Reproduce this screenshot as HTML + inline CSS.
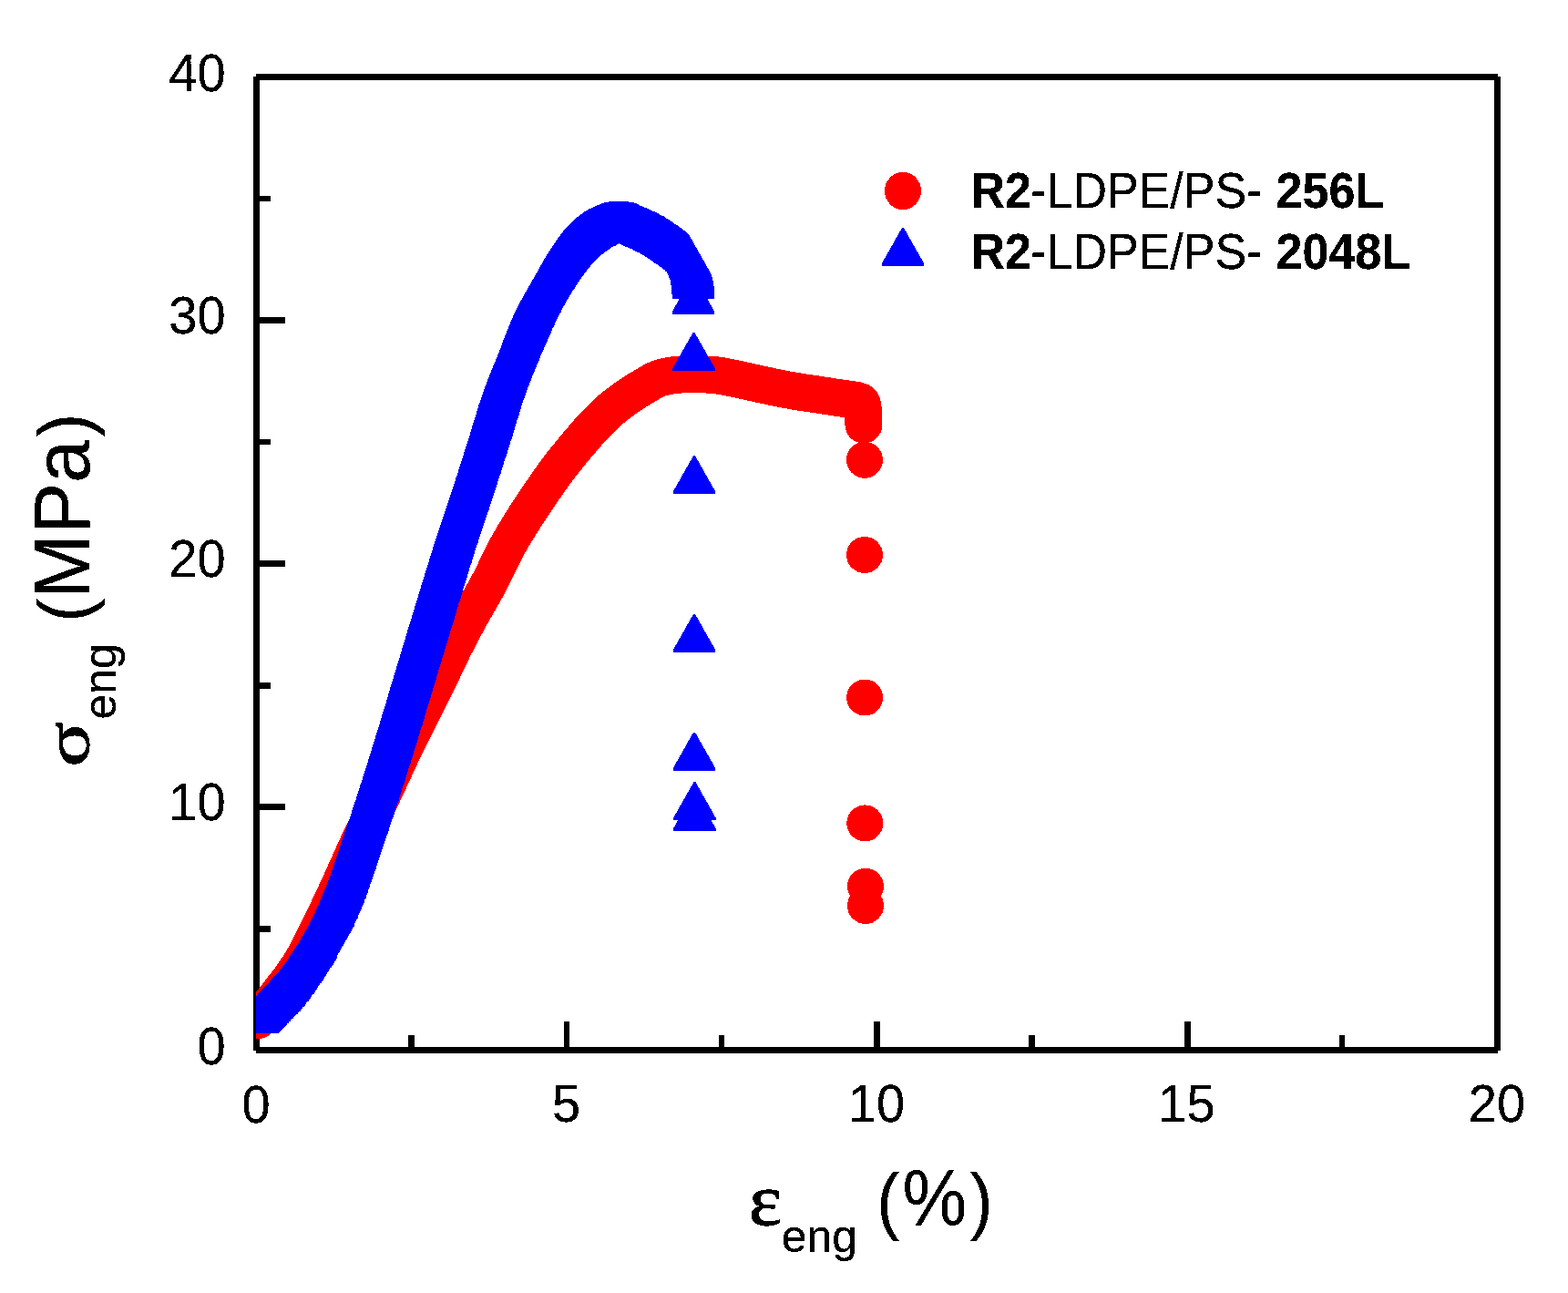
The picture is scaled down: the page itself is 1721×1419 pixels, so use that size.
<!DOCTYPE html>
<html lang="en"><head><meta charset="utf-8"><title>Stress-strain curves</title>
<style>
html,body{margin:0;padding:0;background:#fff}
body{width:1721px;height:1419px;overflow:hidden}
svg{display:block}
text{font-family:"Liberation Sans",sans-serif;fill:#000}
.sym{font-family:"Liberation Serif","DejaVu Serif",serif}
.b{font-weight:bold}
</style></head>
<body>
<svg width="1721" height="1419" viewBox="0 0 1721 1419">
<defs><clipPath id="plot"><rect x="281" y="84" width="1363" height="1069"/></clipPath>
<marker id="t" markerUnits="userSpaceOnUse" markerWidth="60" markerHeight="60" refX="0" refY="0" viewBox="-30 -30 60 60" overflow="visible"><path d="M-1,-27.8 L1,-27.8 L23.3,11.6 L23.3,14.1 L-23.3,14.1 L-23.3,11.6 Z" fill="#00f" shape-rendering="crispEdges"/></marker>
<path id="tri" d="M-1,-27.8 L1,-27.8 L23.3,11.6 L23.3,14.1 L-23.3,14.1 L-23.3,11.6 Z"/>
<filter id="bw" filterUnits="userSpaceOnUse" x="0" y="0" width="1721" height="1419" color-interpolation-filters="sRGB"><feComponentTransfer><feFuncA type="discrete" tableValues="0 1 1"/></feComponentTransfer></filter></defs>
<rect width="1721" height="1419" fill="#fff"/>
<g fill="#000" shape-rendering="crispEdges">
<rect x="278" y="84" width="7" height="1069"/>
<rect x="1640" y="84" width="7" height="1069"/>
<rect x="281" y="81" width="1363" height="7"/>
<rect x="281" y="1149" width="1363" height="7"/>
<rect x="619" y="1121" width="6" height="31"/>
<rect x="959" y="1121" width="7" height="31"/>
<rect x="1300" y="1121" width="7" height="31"/>
<rect x="448" y="1136" width="7" height="16"/>
<rect x="789" y="1136" width="6" height="16"/>
<rect x="1129" y="1136" width="7" height="16"/>
<rect x="1470" y="1136" width="6" height="16"/>
<rect x="281" y="348" width="32" height="7"/>
<rect x="281" y="615" width="32" height="7"/>
<rect x="281" y="882" width="32" height="7"/>
<rect x="281" y="215" width="16" height="6"/>
<rect x="281" y="482" width="16" height="6"/>
<rect x="281" y="749" width="16" height="7"/>
<rect x="281" y="1016" width="16" height="7"/>
</g>
<g clip-path="url(#plot)" shape-rendering="crispEdges">
<polyline points="283.0,1119.7 284.2,1118.1 285.5,1116.5 286.7,1115.0 287.9,1113.4 289.1,1111.8 290.4,1110.2 291.6,1108.7 292.8,1107.1 294.1,1105.5 295.3,1103.9 296.5,1102.3 297.7,1100.8 299.0,1099.2 300.2,1097.6 301.4,1096.0 302.7,1094.5 303.9,1092.9 305.1,1091.3 306.3,1089.7 307.6,1088.1 308.8,1086.5 310.0,1085.0 311.2,1083.4 312.5,1081.8 313.7,1080.2 314.9,1078.7 316.2,1077.1 317.4,1075.5 318.6,1073.9 319.7,1072.2 320.9,1070.6 322.0,1069.0 323.2,1067.3 324.3,1065.7 325.4,1064.0 326.6,1062.4 327.7,1060.7 328.8,1059.0 329.8,1057.3 330.9,1055.6 331.9,1053.9 332.9,1052.2 333.9,1050.5 334.9,1048.7 335.8,1047.0 336.8,1045.2 337.7,1043.4 338.6,1041.7 339.5,1039.9 340.4,1038.1 341.3,1036.3 342.3,1034.5 343.2,1032.7 344.1,1031.0 345.0,1029.2 345.9,1027.4 346.8,1025.6 347.7,1023.8 348.6,1022.0 349.5,1020.2 350.4,1018.5 351.3,1016.7 352.2,1014.9 353.0,1013.1 353.9,1011.3 354.8,1009.5 355.6,1007.7 356.5,1005.9 357.4,1004.1 358.2,1002.2 359.1,1000.4 359.9,998.6 360.8,996.8 361.6,995.0 362.5,993.2 363.3,991.4 364.2,989.6 365.0,987.8 365.9,986.0 366.7,984.1 367.6,982.3 368.4,980.5 369.3,978.7 370.1,976.9 370.9,975.1 371.8,973.3 372.6,971.5 373.4,969.6 374.3,967.8 375.1,966.0 375.9,964.2 376.8,962.4 377.6,960.5 378.4,958.7 379.2,956.9 380.1,955.1 380.9,953.2 381.7,951.4 382.5,949.6 383.3,947.8 384.2,945.9 385.0,944.1 385.8,942.3 386.6,940.5 387.4,938.6 388.2,936.8 389.0,935.0 389.8,933.1 390.7,931.3 391.5,929.5 392.3,927.7 393.1,925.8 394.0,924.0 394.8,922.2 395.7,920.4 396.5,918.6 397.4,916.8 398.3,915.0 399.1,913.2 400.0,911.4 400.9,909.6 401.8,907.9 402.8,906.1 403.7,904.3 404.6,902.5 405.5,900.7 406.4,899.0 407.3,897.2 408.3,895.4 409.2,893.6 410.1,891.9 411.0,890.1 411.9,888.3 412.8,886.5 413.7,884.7 414.6,882.9 415.5,881.1 416.4,879.3 417.3,877.5 418.1,875.7 419.0,873.9 419.8,872.1 420.7,870.3 421.5,868.5 422.4,866.7 423.2,864.9 424.1,863.1 424.9,861.3 425.8,859.4 426.6,857.6 427.4,855.8 428.3,854.0 429.1,852.2 429.9,850.4 430.8,848.5 431.6,846.7 432.4,844.9 433.3,843.1 434.1,841.3 434.9,839.4 435.8,837.6 436.6,835.8 437.5,834.0 438.3,832.2 439.2,830.4 440.0,828.6 440.9,826.8 441.8,825.0 442.6,823.2 443.5,821.4 444.4,819.6 445.3,817.8 446.2,816.0 447.1,814.2 448.0,812.4 448.8,810.6 449.7,808.8 450.6,807.1 451.5,805.3 452.4,803.5 453.3,801.7 454.2,799.9 455.2,798.1 456.1,796.3 457.0,794.6 457.9,792.8 458.8,791.0 459.6,789.2 460.5,787.4 461.4,785.6 462.3,783.8 463.2,782.0 464.1,780.3 465.0,778.5 465.9,776.7 466.8,774.9 467.7,773.1 468.6,771.3 469.5,769.5 470.4,767.8 471.3,766.0 472.2,764.2 473.1,762.4 474.0,760.6 474.9,758.8 475.8,757.0 476.7,755.2 477.6,753.4 478.4,751.6 479.3,749.8 480.2,748.0 481.0,746.2 481.9,744.4 482.8,742.6 483.6,740.8 484.5,739.0 485.3,737.2 486.2,735.4 487.0,733.6 487.8,731.7 488.7,729.9 489.5,728.1 490.4,726.3 491.2,724.5 492.1,722.7 493.0,720.9 493.8,719.1 494.7,717.3 495.6,715.5 496.5,713.7 497.3,711.9 498.2,710.1 499.1,708.3 500.1,706.6 501.0,704.8 501.9,703.0 502.8,701.2 503.7,699.4 504.7,697.7 505.6,695.9 506.5,694.1 507.5,692.4 508.4,690.6 509.3,688.8 510.3,687.1 511.2,685.3 512.2,683.5 513.1,681.8 514.1,680.0 515.0,678.3 516.0,676.5 517.0,674.8 517.9,673.0 518.9,671.3 519.9,669.5 520.9,667.8 521.9,666.1 522.9,664.3 523.9,662.6 524.9,660.9 525.9,659.1 526.9,657.4 527.9,655.7 528.9,653.9 529.9,652.2 530.9,650.5 531.9,648.7 532.8,647.0 533.8,645.2 534.8,643.5 535.7,641.7 536.6,639.9 537.6,638.2 538.5,636.4 539.4,634.6 540.3,632.8 541.2,631.0 542.1,629.2 543.0,627.4 543.8,625.6 544.7,623.8 545.6,622.0 546.5,620.2 547.3,618.4 548.2,616.6 549.1,614.8 550.0,613.0 550.9,611.3 551.8,609.5 552.7,607.7 553.6,605.9 554.5,604.1 555.4,602.4 556.3,600.6 557.3,598.8 558.3,597.1 559.2,595.3 560.2,593.6 561.2,591.9 562.2,590.1 563.2,588.4 564.2,586.7 565.3,585.0 566.3,583.3 567.4,581.6 568.4,579.9 569.5,578.2 570.5,576.5 571.6,574.8 572.6,573.1 573.7,571.4 574.8,569.7 575.8,568.0 576.9,566.3 578.0,564.6 579.1,562.9 580.2,561.3 581.3,559.6 582.3,557.9 583.4,556.2 584.6,554.6 585.7,552.9 586.8,551.2 587.9,549.6 589.0,547.9 590.1,546.3 591.3,544.6 592.4,543.0 593.5,541.3 594.7,539.7 595.8,538.0 596.9,536.4 598.1,534.7 599.2,533.1 600.3,531.4 601.5,529.8 602.6,528.2 603.8,526.5 604.9,524.9 606.1,523.3 607.3,521.6 608.4,520.0 609.6,518.4 610.8,516.8 612.0,515.2 613.2,513.6 614.4,512.0 615.6,510.4 616.9,508.8 618.1,507.3 619.3,505.7 620.6,504.1 621.8,502.6 623.1,501.0 624.4,499.5 625.6,497.9 626.9,496.4 628.2,494.8 629.4,493.3 630.7,491.7 632.0,490.2 633.3,488.7 634.6,487.2 635.9,485.6 637.2,484.1 638.5,482.6 639.8,481.1 641.1,479.5 642.4,478.0 643.7,476.5 645.0,475.0 646.4,473.5 647.7,472.1 649.1,470.6 650.4,469.1 651.8,467.7 653.2,466.2 654.5,464.7 655.9,463.3 657.3,461.8 658.7,460.4 660.1,459.0 661.5,457.6 663.0,456.2 664.4,454.8 665.9,453.4 667.3,452.1 668.8,450.8 670.3,449.5 671.9,448.2 673.4,446.9 675.0,445.7 676.6,444.4 678.1,443.2 679.7,442.0 681.4,440.8 683.0,439.6 684.6,438.5 686.2,437.3 687.9,436.1 689.5,435.0 691.2,433.9 692.8,432.7 694.5,431.6 696.2,430.5 697.8,429.5 699.5,428.4 701.2,427.4 703.0,426.3 704.7,425.3 706.4,424.3 708.2,423.3 709.9,422.2 711.6,421.2 713.4,420.1 715.2,419.1 716.9,418.1 718.7,417.2 720.5,416.4 722.4,415.6 724.2,414.9 726.1,414.3 727.9,413.9 729.9,413.4 731.8,413.0 733.8,412.6 735.8,412.2 737.8,411.9 739.8,411.6 741.8,411.3 743.8,411.2 745.8,411.1 747.7,411.0 749.7,410.9 751.7,410.8 753.7,410.8 755.7,410.7 757.8,410.7 759.8,410.6 761.8,410.6 763.8,410.6 765.8,410.6 767.8,410.7 769.8,410.7 771.8,410.8 773.8,410.9 775.8,411.0 777.8,411.1 779.8,411.2 781.7,411.3 783.7,411.5 785.7,411.7 787.7,412.0 789.7,412.3 791.6,412.6 793.6,413.0 795.6,413.4 797.6,413.7 799.5,414.1 801.5,414.5 803.5,414.9 805.4,415.3 807.4,415.7 809.3,416.1 811.3,416.5 813.2,417.0 815.2,417.4 817.1,417.8 819.1,418.3 821.0,418.7 823.0,419.1 824.9,419.6 826.9,420.0 828.9,420.4 830.8,420.8 832.8,421.3 834.7,421.7 836.7,422.1 838.6,422.5 840.6,423.0 842.5,423.4 844.5,423.8 846.4,424.2 848.4,424.7 850.4,425.1 852.3,425.5 854.3,425.9 856.2,426.3 858.2,426.7 860.2,427.0 862.1,427.4 864.1,427.8 866.1,428.1 868.0,428.5 870.0,428.9 872.0,429.2 873.9,429.5 875.9,429.8 877.9,430.2 879.9,430.5 881.8,430.8 883.8,431.0 885.8,431.3 887.8,431.6 889.8,431.9 891.7,432.2 893.7,432.5 895.7,432.8 897.7,433.1 899.6,433.4 901.6,433.7 903.6,434.0 905.6,434.3 907.6,434.6 909.5,434.9 911.5,435.2 913.5,435.5 915.5,435.8 917.4,436.1 919.4,436.4 921.4,436.7 923.4,437.0 925.4,437.3 927.3,437.6 929.3,437.9 931.3,438.1 933.3,438.4 935.3,438.7 937.3,439.0 939.2,439.3 941.2,439.8 943.5,440.4 945.2,441.2 945.9,442.3 946.5,444.1 946.9,446.3 947.2,448.6 947.3,450.6 947.5,452.6 947.6,454.6 947.7,456.6 947.8,458.6 947.8,460.6 947.9,462.6 947.9,464.6 947.9,466.1" fill="none" stroke="#f00" stroke-width="41" stroke-linecap="round" stroke-linejoin="round"/>
<circle cx="949.0" cy="504.8" r="20" fill="#f00"/>
<circle cx="949.0" cy="609.0" r="20" fill="#f00"/>
<circle cx="949.1" cy="765.5" r="20" fill="#f00"/>
<circle cx="949.3" cy="903.4" r="20" fill="#f00"/>
<circle cx="950.0" cy="972.8" r="20" fill="#f00"/>
<circle cx="950.0" cy="994.0" r="20" fill="#f00"/>
<polyline points="283.1,1119.5 283.8,1118.8 284.5,1118.0 285.2,1117.3 285.9,1116.6 286.5,1115.9 287.2,1115.1 287.9,1114.4 288.6,1113.7 289.3,1113.0 290.0,1112.2 290.7,1111.5 291.3,1110.8 292.0,1110.0 292.7,1109.3 293.4,1108.6 294.1,1107.9 294.8,1107.1 295.4,1106.4 296.1,1105.7 296.8,1104.9 297.5,1104.2 298.2,1103.5 298.9,1102.8 299.5,1102.0 300.2,1101.3 300.9,1100.6 301.6,1099.8 302.3,1099.1 303.0,1098.4 303.7,1097.7 304.4,1096.9 305.1,1096.2 305.7,1095.5 306.4,1094.8 307.1,1094.0 307.8,1093.3 308.5,1092.6 309.1,1091.8 309.8,1091.0 310.4,1090.3 311.0,1089.5 311.6,1088.7 312.3,1087.9 312.9,1087.1 313.5,1086.3 314.0,1085.5 314.6,1084.7 315.2,1083.9 315.8,1083.1 316.4,1082.3 316.9,1081.4 317.5,1080.6 318.1,1079.8 318.7,1079.0 319.2,1078.1 319.8,1077.3 320.4,1076.5 320.9,1075.7 321.5,1074.9 322.1,1074.0 322.6,1073.2 323.2,1072.4 323.8,1071.5 324.3,1070.7 324.9,1069.9 325.4,1069.0 326.0,1068.2 326.5,1067.4 327.1,1066.5 327.6,1065.7 328.2,1064.9 328.7,1064.0 329.3,1063.2 329.8,1062.4 330.3,1061.5 330.9,1060.7 331.4,1059.8 332.0,1059.0 332.5,1058.2 333.1,1057.3 333.6,1056.5 334.1,1055.6 334.7,1054.8 335.2,1053.9 335.8,1053.1 336.3,1052.3 336.8,1051.4 337.4,1050.6 337.9,1049.7 338.4,1048.9 338.9,1048.0 339.5,1047.2 340.0,1046.3 340.5,1045.4 341.0,1044.6 341.5,1043.7 342.0,1042.9 342.5,1042.0 343.0,1041.1 343.5,1040.3 344.0,1039.4 344.4,1038.5 344.9,1037.6 345.4,1036.7 345.9,1035.9 346.3,1035.0 346.8,1034.1 347.2,1033.2 347.7,1032.3 348.2,1031.4 348.6,1030.5 349.1,1029.6 349.5,1028.7 350.0,1027.9 350.5,1027.0 350.9,1026.1 351.4,1025.2 351.9,1024.3 352.4,1023.5 352.9,1022.6 353.4,1021.7 353.9,1020.9 354.4,1020.0 354.9,1019.1 355.4,1018.3 355.9,1017.4 356.4,1016.5 356.9,1015.7 357.4,1014.8 357.9,1013.9 358.4,1013.1 358.9,1012.2 359.4,1011.3 359.9,1010.5 360.4,1009.6 360.9,1008.7 361.3,1007.8 361.8,1006.9 362.2,1006.1 362.7,1005.2 363.1,1004.3 363.6,1003.4 364.0,1002.5 364.4,1001.6 364.9,1000.7 365.3,999.8 365.7,998.9 366.1,998.0 366.6,997.0 367.0,996.1 367.4,995.2 367.8,994.3 368.2,993.4 368.6,992.5 369.0,991.6 369.5,990.7 369.9,989.8 370.3,988.8 370.7,987.9 371.1,987.0 371.5,986.1 371.9,985.2 372.3,984.3 372.7,983.4 373.1,982.4 373.5,981.5 373.9,980.6 374.3,979.7 374.7,978.8 375.1,977.8 375.5,976.9 375.8,976.0 376.2,975.1 376.6,974.1 377.0,973.2 377.3,972.3 377.7,971.4 378.1,970.4 378.4,969.5 378.8,968.6 379.1,967.6 379.5,966.7 379.8,965.7 380.2,964.8 380.5,963.9 380.9,962.9 381.2,962.0 381.5,961.0 381.9,960.1 382.2,959.2 382.5,958.2 382.9,957.3 383.2,956.3 383.6,955.4 383.9,954.5 384.2,953.5 384.6,952.6 384.9,951.6 385.2,950.7 385.6,949.7 385.9,948.8 386.2,947.9 386.6,946.9 386.9,946.0 387.2,945.0 387.6,944.1 387.9,943.1 388.2,942.2 388.5,941.2 388.9,940.3 389.2,939.4 389.5,938.4 389.8,937.5 390.1,936.5 390.4,935.6 390.8,934.6 391.1,933.7 391.4,932.7 391.7,931.8 392.0,930.8 392.3,929.9 392.6,928.9 392.9,928.0 393.2,927.0 393.5,926.1 393.9,925.1 394.2,924.2 394.5,923.2 394.8,922.3 395.1,921.3 395.4,920.4 395.8,919.4 396.1,918.5 396.4,917.5 396.7,916.6 397.0,915.6 397.4,914.7 397.7,913.7 398.0,912.8 398.3,911.8 398.7,910.9 399.0,909.9 399.3,909.0 399.6,908.0 399.9,907.1 400.3,906.2 400.6,905.2 400.9,904.3 401.2,903.3 401.5,902.4 401.9,901.4 402.2,900.5 402.5,899.5 402.8,898.6 403.2,897.6 403.5,896.7 403.8,895.7 404.1,894.8 404.4,893.8 404.8,892.9 405.1,891.9 405.4,891.0 405.7,890.1 406.0,889.1 406.4,888.2 406.7,887.2 407.0,886.3 407.3,885.3 407.6,884.4 408.0,883.4 408.3,882.5 408.6,881.5 408.9,880.6 409.2,879.6 409.5,878.7 409.8,877.7 410.1,876.8 410.5,875.8 410.8,874.9 411.1,873.9 411.4,873.0 411.7,872.0 412.0,871.1 412.3,870.1 412.6,869.2 412.9,868.2 413.2,867.3 413.6,866.3 413.9,865.4 414.2,864.4 414.5,863.5 414.8,862.5 415.1,861.6 415.4,860.6 415.7,859.7 416.0,858.7 416.3,857.7 416.6,856.8 416.9,855.8 417.2,854.9 417.5,853.9 417.8,853.0 418.1,852.0 418.4,851.1 418.7,850.1 419.1,849.2 419.4,848.2 419.7,847.3 420.0,846.3 420.3,845.4 420.6,844.4 420.9,843.5 421.2,842.5 421.5,841.5 421.8,840.6 422.1,839.6 422.4,838.7 422.7,837.7 423.0,836.8 423.3,835.8 423.6,834.9 423.9,833.9 424.2,833.0 424.5,832.0 424.8,831.1 425.1,830.1 425.4,829.2 425.7,828.2 426.0,827.2 426.3,826.3 426.6,825.3 426.9,824.4 427.2,823.4 427.5,822.5 427.8,821.5 428.1,820.6 428.4,819.6 428.7,818.7 429.0,817.7 429.3,816.7 429.6,815.8 429.9,814.8 430.2,813.9 430.5,812.9 430.8,812.0 431.0,811.0 431.3,810.1 431.6,809.1 431.9,808.1 432.2,807.2 432.5,806.2 432.8,805.3 433.1,804.3 433.4,803.4 433.7,802.4 434.0,801.5 434.3,800.5 434.6,799.6 434.9,798.6 435.2,797.6 435.5,796.7 435.8,795.7 436.1,794.8 436.4,793.8 436.7,792.9 437.0,791.9 437.3,791.0 437.6,790.0 437.9,789.0 438.1,788.1 438.4,787.1 438.7,786.2 439.0,785.2 439.3,784.3 439.6,783.3 439.9,782.3 440.2,781.4 440.5,780.4 440.8,779.5 441.1,778.5 441.4,777.6 441.6,776.6 441.9,775.7 442.2,774.7 442.5,773.7 442.8,772.8 443.1,771.8 443.4,770.9 443.7,769.9 444.0,769.0 444.3,768.0 444.5,767.0 444.8,766.1 445.1,765.1 445.4,764.2 445.7,763.2 446.0,762.3 446.3,761.3 446.6,760.3 446.9,759.4 447.1,758.4 447.4,757.5 447.7,756.5 448.0,755.5 448.3,754.6 448.6,753.6 448.9,752.7 449.2,751.7 449.4,750.8 449.7,749.8 450.0,748.8 450.3,747.9 450.6,746.9 450.9,746.0 451.2,745.0 451.5,744.1 451.7,743.1 452.0,742.1 452.3,741.2 452.6,740.2 452.9,739.3 453.2,738.3 453.5,737.4 453.8,736.4 454.1,735.4 454.3,734.5 454.6,733.5 454.9,732.6 455.2,731.6 455.5,730.6 455.8,729.7 456.1,728.7 456.4,727.8 456.7,726.8 456.9,725.9 457.2,724.9 457.5,723.9 457.8,723.0 458.1,722.0 458.4,721.1 458.7,720.1 459.0,719.2 459.3,718.2 459.5,717.2 459.8,716.3 460.1,715.3 460.4,714.4 460.7,713.4 461.0,712.5 461.3,711.5 461.6,710.5 461.9,709.6 462.1,708.6 462.4,707.7 462.7,706.7 463.0,705.8 463.3,704.8 463.6,703.8 463.9,702.9 464.2,701.9 464.5,701.0 464.7,700.0 465.0,699.1 465.3,698.1 465.6,697.1 465.9,696.2 466.2,695.2 466.5,694.3 466.8,693.3 467.1,692.4 467.3,691.4 467.6,690.4 467.9,689.5 468.2,688.5 468.5,687.6 468.8,686.6 469.1,685.7 469.4,684.7 469.7,683.7 470.0,682.8 470.2,681.8 470.5,680.9 470.8,679.9 471.1,679.0 471.4,678.0 471.7,677.0 472.0,676.1 472.3,675.1 472.6,674.2 472.9,673.2 473.2,672.3 473.4,671.3 473.7,670.3 474.0,669.4 474.3,668.4 474.6,667.5 474.9,666.5 475.2,665.6 475.5,664.6 475.8,663.7 476.1,662.7 476.4,661.7 476.6,660.8 476.9,659.8 477.2,658.9 477.5,657.9 477.8,657.0 478.1,656.0 478.4,655.0 478.7,654.1 479.0,653.1 479.3,652.2 479.5,651.2 479.8,650.3 480.1,649.3 480.4,648.3 480.7,647.4 481.0,646.4 481.3,645.5 481.6,644.5 481.9,643.6 482.2,642.6 482.4,641.6 482.7,640.7 483.0,639.7 483.3,638.8 483.6,637.8 483.9,636.9 484.2,635.9 484.5,634.9 484.8,634.0 485.1,633.0 485.4,632.1 485.6,631.1 485.9,630.2 486.2,629.2 486.5,628.2 486.8,627.3 487.1,626.3 487.4,625.4 487.7,624.4 488.0,623.5 488.3,622.5 488.6,621.5 488.9,620.6 489.2,619.6 489.4,618.7 489.7,617.7 490.0,616.8 490.3,615.8 490.6,614.9 490.9,613.9 491.2,612.9 491.5,612.0 491.8,611.0 492.1,610.1 492.4,609.1 492.7,608.2 493.0,607.2 493.3,606.3 493.6,605.3 493.9,604.4 494.2,603.4 494.5,602.4 494.8,601.5 495.1,600.5 495.4,599.6 495.7,598.6 496.0,597.7 496.3,596.7 496.6,595.8 496.9,594.8 497.2,593.9 497.5,592.9 497.8,592.0 498.1,591.0 498.4,590.0 498.7,589.1 499.0,588.1 499.3,587.2 499.6,586.2 499.9,585.3 500.2,584.3 500.5,583.4 500.8,582.4 501.2,581.5 501.5,580.5 501.8,579.6 502.1,578.6 502.4,577.7 502.7,576.7 503.0,575.8 503.3,574.8 503.7,573.9 504.0,572.9 504.3,572.0 504.6,571.0 504.9,570.1 505.2,569.1 505.5,568.2 505.9,567.2 506.2,566.3 506.5,565.3 506.8,564.4 507.1,563.4 507.4,562.5 507.8,561.6 508.1,560.6 508.4,559.7 508.7,558.7 509.0,557.8 509.4,556.8 509.7,555.9 510.0,554.9 510.3,554.0 510.6,553.0 510.9,552.1 511.3,551.1 511.6,550.2 511.9,549.2 512.2,548.3 512.5,547.3 512.9,546.4 513.2,545.4 513.5,544.5 513.8,543.5 514.1,542.6 514.4,541.6 514.7,540.7 515.1,539.7 515.4,538.8 515.7,537.8 516.0,536.9 516.3,535.9 516.6,535.0 516.9,534.0 517.3,533.1 517.6,532.1 517.9,531.2 518.2,530.2 518.5,529.3 518.8,528.3 519.1,527.4 519.4,526.4 519.7,525.5 520.0,524.5 520.3,523.6 520.7,522.6 521.0,521.7 521.3,520.7 521.6,519.8 521.9,518.8 522.2,517.9 522.5,516.9 522.8,516.0 523.1,515.0 523.4,514.1 523.7,513.1 524.0,512.2 524.3,511.2 524.6,510.3 524.9,509.3 525.2,508.3 525.6,507.4 525.9,506.4 526.2,505.5 526.5,504.5 526.8,503.6 527.1,502.6 527.4,501.7 527.7,500.7 528.0,499.8 528.3,498.8 528.6,497.9 528.9,496.9 529.2,496.0 529.5,495.0 529.8,494.1 530.1,493.1 530.4,492.2 530.7,491.2 531.0,490.3 531.3,489.3 531.6,488.3 531.9,487.4 532.2,486.4 532.5,485.5 532.8,484.5 533.2,483.6 533.5,482.6 533.8,481.7 534.1,480.7 534.4,479.8 534.7,478.8 535.0,477.9 535.3,476.9 535.6,476.0 535.9,475.0 536.2,474.0 536.5,473.1 536.8,472.1 537.1,471.2 537.4,470.2 537.7,469.3 538.0,468.3 538.3,467.4 538.6,466.4 538.9,465.5 539.2,464.5 539.5,463.5 539.8,462.6 540.1,461.6 540.3,460.7 540.6,459.7 540.9,458.8 541.2,457.8 541.5,456.8 541.8,455.9 542.1,454.9 542.4,454.0 542.7,453.0 543.0,452.1 543.2,451.1 543.5,450.1 543.8,449.2 544.1,448.2 544.4,447.3 544.7,446.3 545.0,445.4 545.3,444.4 545.6,443.4 545.9,442.5 546.2,441.5 546.5,440.6 546.8,439.6 547.0,438.7 547.3,437.7 547.6,436.7 547.9,435.8 548.2,434.8 548.5,433.9 548.8,432.9 549.1,432.0 549.5,431.0 549.8,430.1 550.1,429.1 550.4,428.2 550.7,427.2 551.0,426.3 551.3,425.3 551.6,424.4 551.9,423.4 552.3,422.5 552.6,421.5 552.9,420.6 553.2,419.7 553.6,418.7 553.9,417.8 554.2,416.8 554.6,415.9 554.9,415.0 555.2,414.0 555.6,413.1 555.9,412.1 556.3,411.2 556.6,410.3 557.0,409.3 557.4,408.4 557.7,407.5 558.1,406.5 558.4,405.6 558.8,404.7 559.2,403.7 559.5,402.8 559.9,401.9 560.3,401.0 560.7,400.0 561.0,399.1 561.4,398.2 561.8,397.2 562.2,396.3 562.5,395.4 562.9,394.5 563.3,393.5 563.7,392.6 564.1,391.7 564.4,390.8 564.8,389.8 565.2,388.9 565.6,388.0 566.0,387.1 566.3,386.1 566.7,385.2 567.1,384.3 567.5,383.4 567.9,382.4 568.2,381.5 568.6,380.6 569.0,379.6 569.4,378.7 569.7,377.8 570.1,376.9 570.5,375.9 570.8,375.0 571.2,374.1 571.6,373.1 571.9,372.2 572.3,371.3 572.6,370.3 573.0,369.4 573.3,368.5 573.7,367.5 574.1,366.6 574.4,365.6 574.8,364.7 575.1,363.8 575.5,362.8 575.8,361.9 576.2,361.0 576.5,360.0 576.9,359.1 577.2,358.1 577.6,357.2 578.0,356.3 578.3,355.3 578.7,354.4 579.0,353.5 579.4,352.5 579.8,351.6 580.1,350.7 580.5,349.7 580.9,348.8 581.2,347.9 581.6,346.9 582.0,346.0 582.4,345.1 582.7,344.2 583.1,343.2 583.5,342.3 583.9,341.4 584.3,340.5 584.7,339.6 585.1,338.7 585.5,337.7 585.9,336.8 586.3,335.9 586.7,335.0 587.1,334.1 587.5,333.2 588.0,332.3 588.4,331.4 588.8,330.5 589.3,329.6 589.7,328.7 590.2,327.8 590.6,326.9 591.0,326.1 591.5,325.2 592.0,324.3 592.4,323.4 592.9,322.5 593.4,321.6 593.8,320.7 594.3,319.8 594.8,318.9 595.3,318.1 595.7,317.2 596.2,316.3 596.7,315.4 597.2,314.6 597.7,313.7 598.2,312.8 598.7,311.9 599.2,311.1 599.7,310.2 600.2,309.4 600.8,308.5 601.3,307.6 601.8,306.8 602.3,305.9 602.8,305.1 603.4,304.2 603.9,303.4 604.4,302.5 605.0,301.7 605.5,300.9 606.0,300.0 606.6,299.2 607.1,298.4 607.7,297.5 608.2,296.7 608.8,295.9 609.3,295.0 609.9,294.2 610.5,293.4 611.0,292.5 611.6,291.7 612.2,290.9 612.8,290.0 613.4,289.2 614.0,288.4 614.5,287.6 615.1,286.8 615.8,286.0 616.4,285.2 617.0,284.4 617.6,283.6 618.2,282.8 618.8,282.0 619.5,281.2 620.1,280.5 620.7,279.7 621.4,278.9 622.0,278.2 622.7,277.5 623.4,276.7 624.0,276.0 624.7,275.3 625.4,274.6 626.1,273.9 626.8,273.2 627.5,272.5 628.2,271.8 628.9,271.1 629.7,270.4 630.4,269.7 631.1,269.0 631.9,268.3 632.7,267.6 633.4,267.0 634.2,266.3 635.0,265.7 635.8,265.0 636.5,264.4 637.3,263.8 638.1,263.2 638.9,262.6 639.8,262.0 640.6,261.4 641.4,260.8 642.2,260.3 643.0,259.8 643.9,259.2 644.7,258.7 645.6,258.2 646.4,257.7 647.3,257.3 648.2,256.8 649.1,256.4 650.0,255.9 650.9,255.5 651.9,255.1 652.8,254.7 653.7,254.3 654.6,253.9 655.5,253.5 656.5,253.1 657.4,252.7 658.3,252.3 659.3,251.9 660.2,251.5 661.1,251.1 662.1,250.7 663.0,250.4 664.0,250.1 665.0,249.8 665.9,249.6 666.9,249.4 667.9,249.3 668.8,249.2 669.8,249.2 670.8,249.1 671.8,249.1 672.8,249.0 673.8,249.0 674.8,249.0 675.8,248.9 676.8,248.9 677.8,248.9 678.9,248.9 679.9,248.9 680.9,248.9 681.9,248.9 682.9,249.0 683.9,249.0 684.9,249.0 685.9,249.1 686.9,249.1 687.9,249.2 688.9,249.2 689.8,249.3 690.8,249.4 691.8,249.5 692.7,249.7 693.7,249.9 694.7,250.2 695.6,250.5 696.6,250.9 697.5,251.2 698.4,251.6 699.4,252.0 700.3,252.5 701.2,252.9 702.2,253.3 703.1,253.7 704.0,254.2 704.9,254.6 705.9,254.9 706.8,255.3 707.7,255.7 708.6,256.1 709.6,256.5 710.5,256.9 711.4,257.3 712.3,257.7 713.2,258.1 714.1,258.5 715.0,258.9 716.0,259.4 716.9,259.8 717.8,260.2 718.7,260.7 719.6,261.1 720.5,261.6 721.4,262.0 722.2,262.5 723.1,262.9 724.0,263.4 724.9,263.9 725.8,264.4 726.6,264.8 727.5,265.3 728.4,265.8 729.2,266.3 730.1,266.8 730.9,267.4 731.8,267.9 732.6,268.4 733.4,269.0 734.3,269.6 735.1,270.1 735.9,270.7 736.8,271.3 737.6,271.8 738.4,272.4 739.2,273.0 740.1,273.5 740.9,274.1 741.7,274.7 742.6,275.2 743.4,275.8 744.2,276.3 745.1,276.9 745.9,277.4 746.7,278.0 747.5,278.6 748.3,279.2 749.1,279.8 749.9,280.4 750.7,281.0 751.5,281.7 752.2,282.3 753.0,283.0 753.7,283.7 754.4,284.4 755.0,285.2 755.5,286.0 756.0,286.9 756.5,287.8 756.9,288.7 757.3,289.7 757.6,290.6 758.0,291.5 758.3,292.5 758.6,293.4 758.9,294.4 759.1,295.4 759.3,296.3 759.5,297.3 759.7,298.3 759.8,299.3 760.0,300.3 760.1,301.3 760.2,302.3 760.4,303.3 760.5,304.3 760.5,305.3 760.6,306.3 760.7,307.3 760.8,308.3 760.8,309.3 760.9,310.3 760.9,311.3 761.0,312.3 761.0,313.3 761.0,313.6" fill="none" stroke="none" marker-start="url(#t)" marker-mid="url(#t)" marker-end="url(#t)"/>
<polyline points="296.8,1104.9 298.1,1103.5 299.4,1102.0 300.7,1100.6 302.0,1099.1 303.3,1097.7 304.7,1096.2 306.0,1094.8 307.3,1093.3 308.6,1091.8 309.9,1090.3 311.1,1088.7 312.2,1087.1 313.4,1085.5 314.5,1083.9 315.6,1082.3 316.7,1080.6 317.9,1079.0 319.0,1077.3 320.1,1075.7 321.2,1074.0 322.3,1072.4 323.4,1070.7 324.4,1069.0 325.5,1067.4 326.6,1065.7 327.7,1064.0 328.7,1062.4 329.8,1060.7 330.9,1059.0 331.9,1057.3 333.0,1055.6 334.0,1053.9 335.1,1052.3 336.2,1050.6 337.2,1048.9 338.2,1047.2 339.3,1045.4 340.3,1043.7 341.3,1042.0 342.2,1040.3 343.2,1038.5 344.1,1036.7 345.0,1035.0 345.9,1033.2 346.9,1031.4 347.8,1029.6 348.7,1027.9 349.6,1026.1 350.6,1024.3 351.6,1022.6 352.6,1020.9 353.6,1019.1 354.6,1017.4 355.6,1015.7 356.7,1013.9 357.7,1012.2 358.7,1010.5 359.6,1008.7 360.6,1006.9 361.5,1005.2 362.4,1003.4 363.3,1001.6 364.1,999.8 365.0,998.0 365.9,996.1 366.7,994.3 367.6,992.5 368.4,990.7 369.3,988.8 370.1,987.0 370.9,985.2 371.8,983.4 372.6,981.5 373.4,979.7 374.2,977.8 375.0,976.0 375.8,974.1 376.6,972.3 377.4,970.4 378.1,968.6 378.9,966.7 379.6,964.8 380.4,962.9 381.1,961.0 381.8,959.2 382.5,957.3 383.3,955.4 384.0,953.5 384.8,951.6 385.3,950.7 384.7,952.6 384.1,954.5 383.5,956.3 382.9,958.2 382.3,960.1 381.7,962.0 381.0,963.9 380.4,965.7 379.8,967.6 379.1,969.5 378.4,971.4 377.7,973.2 377.0,975.1 376.3,976.9 375.5,978.8 374.8,980.6 374.0,982.4 373.3,984.3 372.5,986.1 371.7,987.9 370.9,989.8 370.1,991.6 369.3,993.4 368.5,995.2 367.7,997.0 366.9,998.9 366.0,1000.7 365.2,1002.5 364.3,1004.3 363.4,1006.1 362.5,1007.8 361.6,1009.6 360.7,1011.3 359.7,1013.1 358.7,1014.8 357.7,1016.5 356.7,1018.3 355.7,1020.0 354.7,1021.7 353.7,1023.5 352.7,1025.2 351.8,1027.0 350.8,1028.7 349.9,1030.5 349.0,1032.3 348.1,1034.1 347.1,1035.9 346.2,1037.6 345.2,1039.4 344.3,1041.1 343.3,1042.9 342.3,1044.6 341.2,1046.3 340.2,1048.0 339.1,1049.7 338.0,1051.4 336.9,1053.1 335.8,1054.8 334.7,1056.5 333.6,1058.2 332.5,1059.8 331.4,1061.5 330.3,1063.2 329.2,1064.9 328.1,1066.5 327.0,1068.2 325.8,1069.9 324.7,1071.5 323.5,1073.2 322.4,1074.9 321.2,1076.5 320.1,1078.1 318.9,1079.8 317.7,1081.4 316.5,1083.1 315.3,1084.7 314.1,1086.3 312.9,1087.9 311.6,1089.5 310.3,1091.0 309.0,1092.6 307.6,1094.0 306.2,1095.5 304.7,1096.9 303.3,1098.4 301.9,1099.8 300.4,1101.3 299.0,1102.8 297.6,1104.2" fill="none" stroke="none" marker-start="url(#t)" marker-mid="url(#t)" marker-end="url(#t)"/>
<polyline points="570.5,375.9 570.9,375.1 571.3,374.2 571.7,373.3 572.1,372.4 572.6,371.5 573.0,370.6 573.4,369.8 573.7,368.9 574.1,368.0 574.5,367.1 574.9,366.2 575.3,365.3 575.7,364.4 576.1,363.5 576.5,362.6 576.9,361.6 577.3,360.7 577.7,359.8 578.0,358.9 578.4,358.0 578.8,357.1 579.2,356.2 579.6,355.3 580.0,354.4 580.4,353.5 580.8,352.6 581.2,351.7 581.5,350.8 581.9,349.9 582.3,349.0 582.7,348.1 583.1,347.2 583.5,346.3 583.9,345.4 584.4,344.5 584.8,343.6 585.2,342.7 585.6,341.8 586.0,340.9 586.4,340.0 586.8,339.1 587.3,338.2 587.7,337.3 588.1,336.4 588.6,335.6 589.0,334.7 589.4,333.8 589.9,332.9 590.3,332.0 590.8,331.2 591.3,330.3 591.7,329.4 592.2,328.5 592.6,327.6 593.1,326.8 593.6,325.9 594.1,325.0 594.5,324.1 595.0,323.3 595.5,322.4 596.0,321.5 596.5,320.6 597.0,319.8 597.4,318.9 597.9,318.0 598.4,317.1 598.9,316.3 599.4,315.4 600.0,314.5 600.5,313.7 601.0,312.8 601.5,312.0 602.0,311.1 602.5,310.2 603.0,309.4 603.6,308.5 604.1,307.7 604.6,306.8 605.1,306.0 605.7,305.1 606.2,304.3 606.7,303.5 607.3,302.6 607.8,301.8 608.3,300.9 608.9,300.1 609.4,299.3 610.0,298.4 610.5,297.6 611.1,296.7 611.6,295.9 612.2,295.1 612.8,294.2 613.3,293.4 613.9,292.6 614.5,291.7 615.0,290.9 615.6,290.1 616.2,289.2 616.8,288.4 617.4,287.6 618.0,286.8 618.6,286.0 619.2,285.2 619.8,284.4 620.4,283.6 621.0,282.8 621.6,282.0 622.3,281.2 622.9,280.4 623.5,279.7 624.2,278.9 624.8,278.2 625.5,277.4 626.1,276.7 626.8,276.0 627.4,275.2 628.1,274.5 628.8,273.8 629.5,273.1 630.2,272.3 630.9,271.6 631.6,270.9 632.4,270.2 633.1,269.5 633.8,268.8 634.6,268.1 635.3,267.4 636.1,266.7 636.8,266.1 637.6,265.4 638.3,264.8 639.1,264.1 639.9,263.5 640.7,262.9 641.5,262.3 642.2,261.7 643.0,261.1 643.8,260.5 644.6,260.0 645.4,259.5 646.3,258.9 647.1,258.4 648.0,257.9 648.8,257.4 649.7,256.9 650.6,256.4 651.4,256.0 652.3,255.5 653.2,255.1 654.1,254.6 654.9,254.2 655.8,253.8 656.7,253.3 657.6,252.9 658.5,252.4 659.3,251.9 660.2,251.5" fill="none" stroke="none" marker-start="url(#t)" marker-mid="url(#t)" marker-end="url(#t)"/>
<use href="#tri" x="761.0" y="330.6" fill="#00f"/>
<use href="#tri" x="761.5" y="392.8" fill="#00f"/>
<use href="#tri" x="762.0" y="528.0" fill="#00f"/>
<use href="#tri" x="762.0" y="701.8" fill="#00f"/>
<use href="#tri" x="762.0" y="831.6" fill="#00f"/>
<use href="#tri" x="762.4" y="886.0" fill="#00f"/>
<use href="#tri" x="762.4" y="897.6" fill="#00f"/>
</g>
<g shape-rendering="crispEdges"><ellipse cx="991" cy="209.5" rx="20.1" ry="20.6" fill="#f00"/><use href="#tri" x="991" y="277.8" fill="#00f"/></g>
<g filter="url(#bw)">
<text text-anchor="end" font-size="56" transform="translate(247.60 1167.50) scale(1.0000 1.0100)">0</text>
<text text-anchor="end" font-size="56" transform="translate(247.60 900.50) scale(1.0000 1.0100)">10</text>
<text text-anchor="end" font-size="56" transform="translate(247.60 633.50) scale(1.0000 1.0100)">20</text>
<text text-anchor="end" font-size="56" transform="translate(247.60 366.50) scale(1.0000 1.0100)">30</text>
<text text-anchor="end" font-size="56" transform="translate(247.60 99.50) scale(1.0000 1.0100)">40</text>
<text text-anchor="middle" font-size="56" transform="translate(281.00 1231.50) scale(1.0000 1.0100)">0</text>
<text text-anchor="middle" font-size="56" transform="translate(621.50 1231.50) scale(1.0000 1.0100)">5</text>
<text text-anchor="middle" font-size="56" transform="translate(962.00 1231.50) scale(1.0000 1.0100)">10</text>
<text text-anchor="middle" font-size="56" transform="translate(1302.50 1231.50) scale(1.0000 1.0100)">15</text>
<text text-anchor="middle" font-size="56" transform="translate(1643.00 1231.50) scale(1.0000 1.0100)">20</text>
<text font-size="52" transform="translate(1065.50 227.90) scale(1.0000 1.0500)"><tspan class="b">R2</tspan><tspan dx="-0.7">-LDPE/PS- </tspan><tspan class="b" dx="0.7">256L</tspan></text>
<text font-size="52" transform="translate(1065.50 294.90) scale(1.0000 1.0500)"><tspan class="b">R2</tspan><tspan dx="-0.7">-LDPE/PS- </tspan><tspan class="b" dx="0.7">2048L</tspan></text>
<text class="sym" stroke="#000" stroke-width="0.8" stroke-linejoin="round" font-size="83" transform="translate(821.70 1344.00) scale(1.0500 0.9700)">ε</text>
<text font-size="50" transform="translate(857.70 1374.40)">eng</text>
<text class="sym" stroke="#000" stroke-width="1.0" stroke-linejoin="round" font-size="83" transform="translate(97.20 841.40) rotate(-90) scale(1.1073 0.8534)">σ</text>
<text font-size="50" transform="translate(126.60 789.50) rotate(-90)">eng</text>
<text font-size="79.5" transform="translate(962.30 1345.10) scale(1.0000 1.0900)"><tspan font-size="75.6">(</tspan><tspan dx="3" dy="-1.3">%</tspan><tspan font-size="75.6" dx="3.4" dy="1.3">)</tspan></text>
<text font-size="84.5" transform="translate(97.60 682.70) rotate(-90) scale(1.0000 1.0240)"><tspan font-size="78.1">(</tspan><tspan dy="0.8">MPa</tspan><tspan font-size="78.1" dx="3.2" dy="-0.8">)</tspan></text>
</g>
</svg>
</body></html>
